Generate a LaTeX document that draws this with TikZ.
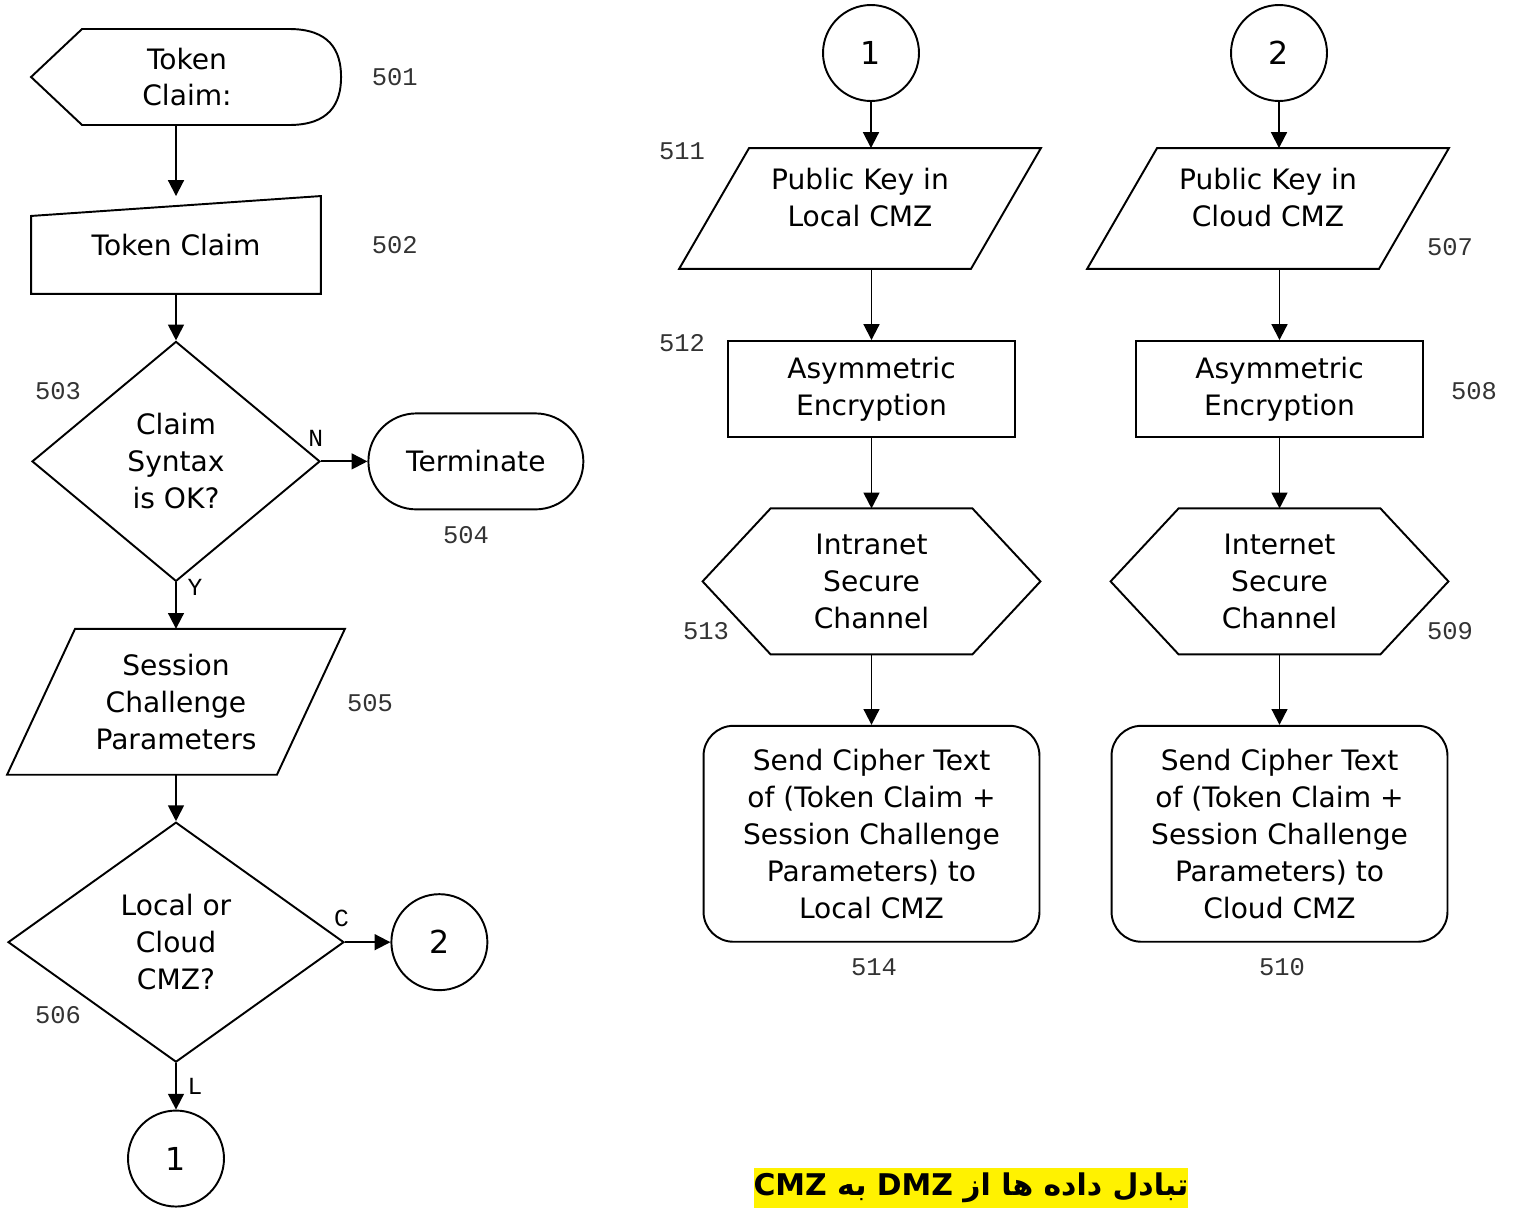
\documentclass[tikz,border=0pt]{standalone}
\usepackage{fontspec}
\setmainfont{DejaVu Sans}
\setmonofont{Liberation Mono}
\newfontfamily\arabicfont[Script=Arabic]{DejaVu Sans}
\TeXXeTstate=1
\usepackage{tikz}
\usetikzlibrary{shapes.geometric,arrows.meta,positioning,calc}

\begin{document}
\begin{tikzpicture}[
  x=0.02cm, y=-0.02cm,
  line width=1.1pt,
  box/.style={rectangle, align=center, inner sep=0pt, font=\fontsize{16}{21}\selectfont},
  proc/.style={box, draw, minimum width=5.74cm, minimum height=1.92cm},
  decision/.style={diamond, draw, align=center, inner sep=0pt, font=\fontsize{16}{21}\selectfont},
  endbox/.style={box, draw, rounded corners=0.96cm, minimum width=4.3cm, minimum height=1.92cm},
  sendbox/.style={box, draw, rounded corners=0.6cm, minimum width=6.72cm, minimum height=4.32cm},
  connector/.style={circle, draw, minimum size=1.92cm, inner sep=0pt, font=\fontsize{18}{20}\selectfont},
  num/.style={inner sep=0pt, font=\fontsize{14.5}{15}\selectfont\ttfamily, text=black!80},
  branch/.style={inner sep=1pt, font=\fontsize{14}{14}\selectfont\ttfamily},
  banner/.style={fill=yellow, inner xsep=0pt, inner ysep=3pt, font=\fontsize{17}{20}\selectfont\bfseries},
  arrow/.style={->, >={Triangle[length=9pt,width=9pt]}}
]
\useasboundingbox (0,0) rectangle (1514,1207);

% left column
\node[box, minimum width=6.2cm, minimum height=1.92cm] (n501) at (187,77) {Token\\Claim:};
\node[box, minimum width=5.76cm, minimum height=1.92cm] (n502) at (176,245) {Token Claim};
\node[decision, minimum width=5.76cm, minimum height=4.8cm, below=0.93cm of n502] (n503) {Claim\\Syntax\\is OK?};
\node[endbox, right=0.93cm of n503] (n504) {Terminate};
\node[box, minimum width=6.72cm, minimum height=2.88cm, below=0.93cm of n503] (n505) {Session\\Challenge\\Parameters};
\node[decision, minimum width=6.72cm, minimum height=4.8cm, below=0.93cm of n505] (n506) {Local or\\Cloud\\CMZ?};
\node[connector, right=0.91cm of n506] (out2) {2};
\node[connector, below=0.93cm of n506] (out1) {1};

% local column
\node[connector] (in1) at (871,53) {1};
\node[box, minimum width=7.2cm, minimum height=2.38cm,
  label={[box, yshift=6.5pt]center:{Public Key in\\Local CMZ}}] (n511) at (860,208.5) {};
\node[proc] (n512) at (871.5,389) {Asymmetric\\Encryption};
\node[box, minimum width=6.72cm, minimum height=2.88cm, below=1.41cm of n512] (n513) {Intranet\\Secure\\Channel};
\node[sendbox, below=1.41cm of n513] (n514) {Send Cipher Text\\of (Token Claim +\\Session Challenge\\Parameters) to\\Local CMZ};

% cloud column
\node[connector] (in2) at (1279,53) {2};
\node[box, minimum width=7.2cm, minimum height=2.38cm,
  label={[box, yshift=6.5pt]center:{Public Key in\\Cloud CMZ}}] (n507) at (1268,208.5) {};
\node[proc] (n508) at (1279.5,389) {Asymmetric\\Encryption};
\node[box, minimum width=6.72cm, minimum height=2.88cm, below=1.41cm of n508] (n509) {Internet\\Secure\\Channel};
\node[sendbox, below=1.41cm of n509] (n510) {Send Cipher Text\\of (Token Claim +\\Session Challenge\\Parameters) to\\Cloud CMZ};

% outlines
\draw (n501.west) -- ++(51,-48) -- ++(207,0) .. controls +(40,0) and +(0,-27) .. ++(52,48)
  .. controls +(0,27) and +(40,0) .. ++(-52,48) -- ++(-207,0) -- cycle;
\draw (n502.south west) -- ++(0,-78) -- (n502.north east) -- (n502.south east) -- cycle;
\foreach \p/\d in {n505/68, n511/70, n507/70}
  \draw ($(\p.north west)+(\d,0)$) -- (\p.north east) -- ($(\p.south east)+(-\d,0)$) -- (\p.south west) -- cycle;
\foreach \h in {n513, n509}
  \draw (\h.west) -- ($(\h.north west)+(68,0)$) -- ($(\h.north east)+(-68,0)$) -- (\h.east)
    -- ($(\h.south east)+(-68,0)$) -- ($(\h.south west)+(68,0)$) -- cycle;

% numbers
\node[num, right=0.56cm of n501] (l501) {501};
\node[num, right=1cm of n502] (l502) {502};
\node[num] (l503) at (58,391) {503};
\node[num] (l504) at (466,535) {504};
\node[num] (l505) at (370,703) {505};
\node[num] (l506) at (58,1015) {506};
\node[num] (l511) at (682,151) {511};
\node[num] (l512) at (682,343) {512};
\node[num] (l513) at (706,631) {513};
\node[num] (l514) at (874,967) {514};
\node[num] (l507) at (1450,247) {507};
\node[num] (l508) at (1474,391) {508};
\node[num] (l509) at (1450,631) {509};
\node[num] (l510) at (1282,967) {510};

% arrows
\draw[arrow] (n501.south -| n502.north) -- (n502.north);
\draw[arrow] (n502.south) -- (n503.north);
\draw[arrow] (n503.east) -- node[branch, at start, above, xshift=-3pt, yshift=7pt] {N} (n504.west);
\draw[arrow] (n503.south) -- node[branch, pos=0.1, right=5pt] {Y} (n505.north);
\draw[arrow] (n505.south) -- (n506.north);
\draw[arrow] (n506.east) -- node[branch, at start, above, xshift=-2pt, yshift=7pt] {C} (out2.west);
\draw[arrow] (n506.south) -- node[branch, pos=0.5, right=5pt] {L} (out1.north);

\draw[arrow] (in1.south) -- (in1.south |- n511.north);
\draw[arrow] (n512.north |- n511.south) -- (n512.north);
\draw[arrow] (n512.south) -- (n513.north);
\draw[arrow] (n513.south) -- (n514.north);
\draw[arrow] (in2.south) -- (in2.south |- n507.north);
\draw[arrow] (n508.north |- n507.south) -- (n508.north);
\draw[arrow] (n508.south) -- (n509.north);
\draw[arrow] (n509.south) -- (n510.north);

\node[banner, anchor=north] (title) at (971,1167) {\arabicfont\beginR تبادل داده ها از \beginL DMZ\endL{} به \beginL CMZ\endL\endR};
\end{tikzpicture}
\end{document}
